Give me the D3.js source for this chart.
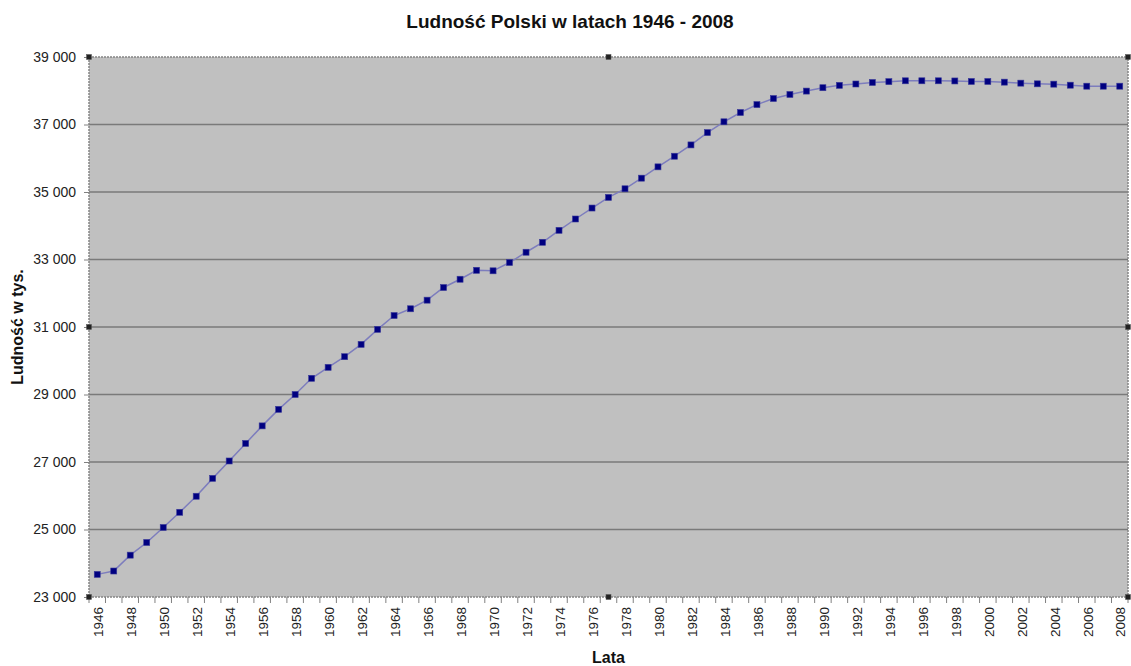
<!DOCTYPE html>
<html>
<head>
<meta charset="utf-8">
<script src="https://cdn.jsdelivr.net/npm/d3@7"></script>
<style>
  body { margin: 0; background: #fff; }
  svg { display: block; font-family: Arial, "Liberation Sans", sans-serif; }
</style>
</head>
<body>
<div id="chart"></div>
<script>
// lata 1946 - 2008
const years = d3.range(1946, 2009);
// ludnosc w tys.
const population = [
  23670, 23770, 24240, 24615, 25060, 25510, 25985, 26515, 27030, 27550,
  28070, 28560, 29000, 29480, 29805, 30120, 30485, 30930, 31340, 31540,
  31795, 32170, 32415, 32680, 32665, 32910, 33215, 33510, 33865, 34200,
  34525, 34840, 35095, 35410, 35745, 36060, 36395, 36760, 37080, 37355,
  37590, 37770, 37890, 37990, 38090, 38160, 38200, 38245, 38270, 38295,
  38295, 38295, 38290, 38275, 38275, 38255, 38225, 38205, 38195, 38165,
  38135, 38135, 38135
];
const yTicks = [23000, 25000, 27000, 29000, 31000, 33000, 35000, 37000, 39000];
const xLabelYears = years.filter(function(y){ return (y - 1946) % 2 == 0 });

const width = 1131, height = 666;
const margin = {left: 89, top: 57, right: 3, bottom: 69};
const plotW = width - margin.left - margin.right;
const plotH = height - margin.top - margin.bottom;

const pl = d3.formatLocale({decimal: ",", thousands: " ", grouping: [3], currency: ["", ""]});
const fmt = pl.format(",");

let svg = d3.select('#chart').append('svg').attr('width', width).attr('height', height);

let xScale = d3.scaleBand().domain(years).range([0, plotW]).padding(0);
let yScale = d3.scaleLinear().domain([23000, 39000]).range([plotH, 0]);
let cx = function(y){ return xScale(y) + xScale.bandwidth()/2 };

let g = svg.append('g').attr('transform', 'translate('+margin.left+','+margin.top+')');

// tlo
g.append('rect').attr('width', plotW).attr('height', plotH).attr('fill', '#c0c0c0');

// linie siatki
g.selectAll('.grid').data(yTicks.slice(1, -1)).enter().append('line')
  .attr('class', 'grid')
  .attr('x1', 0).attr('x2', plotW)
  .attr('y1', function(d){ return yScale(d) }).attr('y2', function(d){ return yScale(d) })
  .attr('stroke', '#7a7a7a').attr('stroke-width', 1.6);

// ramka
g.append('rect').attr('width', plotW).attr('height', plotH)
  .attr('fill', 'none').attr('stroke', '#858585').attr('stroke-width', 1.5)
  .attr('stroke-dasharray', '2,1');

// os Y
let yAxis = d3.axisLeft(yScale).tickValues(yTicks).tickSize(5).tickPadding(8).tickFormat(fmt);
let yg = g.append('g').call(yAxis);
yg.select('.domain').remove();
yg.selectAll('line').attr('stroke', '#808080');
yg.selectAll('text').attr('font-size', '14px').attr('fill', '#222')
  .attr('font-family', 'Arial, "Liberation Sans", sans-serif');

// os X - kreski miedzy kategoriami
let tickPos = years.map(function(y){ return xScale(y) }).concat([plotW]);
g.selectAll('.xtick').data(tickPos).enter().append('line')
  .attr('class', 'xtick')
  .attr('x1', function(d){ return d }).attr('x2', function(d){ return d })
  .attr('y1', plotH).attr('y2', plotH + 6)
  .attr('stroke', '#808080');

let xg = g.append('g').attr('transform', 'translate(0,'+plotH+')');
xg.selectAll('text').data(xLabelYears).enter().append('text')
  .attr('transform', function(d){ return 'translate('+(cx(d)+1)+',10) rotate(-90)' })
  .attr('text-anchor', 'end').attr('dy', '0.35em')
  .attr('font-size', '13.5px').attr('fill', '#222')
  .text(function(d){ return d });

// linia
let line = d3.line().x(function(d, i){ return cx(years[i]) }).y(function(d){ return yScale(d) });
g.append('path').datum(population).attr('d', line)
  .attr('fill', 'none').attr('stroke', '#7d7dbd').attr('stroke-width', 1.5);

// znaczniki
const mk = 6;
g.selectAll('.marker').data(population).enter().append('rect')
  .attr('class', 'marker')
  .attr('x', function(d, i){ return cx(years[i]) - mk/2 })
  .attr('y', function(d){ return yScale(d) - mk/2 })
  .attr('width', mk).attr('height', mk)
  .attr('fill', '#000080').attr('stroke', '#3a3a9a').attr('stroke-width', 0.6);

// uchwyty zaznaczenia
let handles = [[0,0],[plotW/2,0],[plotW,0],[plotW,plotH/2],[plotW,plotH],[plotW/2,plotH],[0,plotH],[0,plotH/2]];
g.selectAll('.handle').data(handles).enter().append('rect')
  .attr('class', 'handle')
  .attr('x', function(d){ return d[0]-2.5 }).attr('y', function(d){ return d[1]-2.5 })
  .attr('width', 5).attr('height', 5)
  .attr('fill', '#222').attr('stroke', '#555').attr('stroke-width', 0.5);

// tytuly
svg.append('text').attr('x', 570).attr('y', 28).attr('text-anchor', 'middle')
  .attr('font-size', '19px').attr('font-weight', 'bold').attr('fill', '#111')
  .text('Ludność Polski w latach 1946 - 2008');

svg.append('text').attr('x', margin.left + plotW/2).attr('y', 663).attr('text-anchor', 'middle')
  .attr('font-size', '16px').attr('font-weight', 'bold').attr('fill', '#111')
  .text('Lata');

svg.append('text').attr('transform', 'translate(23,'+(margin.top + plotH/2)+') rotate(-90)')
  .attr('text-anchor', 'middle')
  .attr('font-size', '16px').attr('font-weight', 'bold').attr('fill', '#111')
  .text('Ludność w tys.');
</script>
</body>
</html>
